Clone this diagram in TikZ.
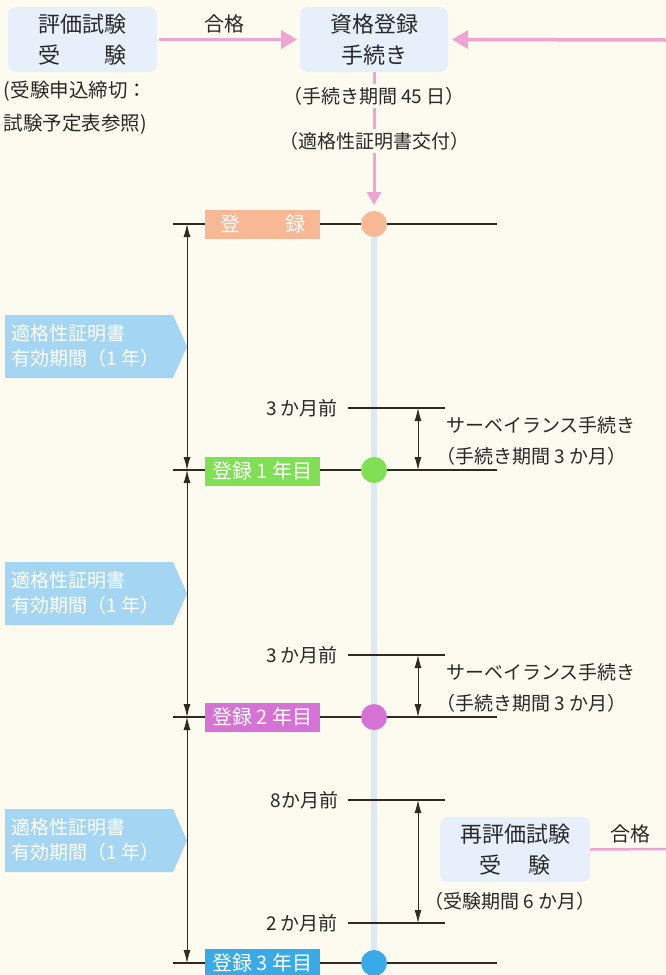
\documentclass[tikz,border=0pt]{standalone}
\usepackage{fontspec}
\setmainfont{Noto Sans CJK JP}
\newfontfamily\haltfont{Noto Sans CJK JP}[RawFeature=+halt]
\usetikzlibrary{arrows.meta}
\definecolor{bg}{RGB}{253,251,240}
\definecolor{boxbg}{RGB}{231,240,250}
\definecolor{txt}{RGB}{40,40,40}
\definecolor{dark}{RGB}{50,42,32}
\definecolor{pinkc}{RGB}{240,164,212}
\definecolor{vblue}{RGB}{220,232,245}
\definecolor{pent}{RGB}{164,214,243}
\definecolor{salmon}{RGB}{248,184,150}
\definecolor{greenc}{RGB}{128,224,84}
\definecolor{magc}{RGB}{214,114,214}
\definecolor{bluec}{RGB}{56,170,232}
\newcommand\lpar{{\haltfont （}}
\newcommand\rpar{{\haltfont ）}}
\begin{document}
\begin{tikzpicture}[x=1pt,y=-1pt,
  every node/.style={inner sep=0pt, outer sep=0pt, text=txt},
  tbox/.style={fill=boxbg, rounded corners=8pt, align=center, minimum height=65pt, font=\fontsize{22}{31}\selectfont},
  lbl/.style={font=\fontsize{19}{30}\selectfont, align=center},
  passlbl/.style={font=\fontsize{20}{24}\selectfont},
  regbox/.style={minimum width=115pt, minimum height=29pt, text=white, font=\fontsize{20}{24}\selectfont},
  dot/.style={circle, minimum size=26pt},
  parrow/.style={draw=pinkc, line width=3.5pt, -{Triangle[length=16pt,width=18pt]}},
  vparrow/.style={draw=pinkc, line width=3pt, -{Triangle[length=13pt,width=14pt]}},
  pline/.style={draw=pinkc, line width=2.5pt},
  dim/.style={draw=dark, line width=0.9pt, {Latex[length=13pt,width=7pt]}-{Latex[length=13pt,width=7pt]}},
  hline/.style={draw=dark, line width=1.1pt},
  vline/.style={draw=vblue, line width=6pt},
  ptext/.style={text=white, font=\fontsize{19}{25}\selectfont, anchor=west}
]
\fill[bg] (0,0) rectangle (666,975);
\useasboundingbox (0,0) rectangle (666,975);

% top boxes
\node[tbox, minimum width=149pt] (exam) at (82.5,39.5) {評価試験\\受\hspace{2em}験};
\node[tbox, minimum width=148pt] (reg) at (374,39.5) {資格登録\\手続き};
\node[passlbl] (pass1) at (224,24) {合格};
\coordinate (rin) at (666,40);
\draw[parrow, shorten <=2pt, shorten >=3pt] (exam.east) -- (reg.west);
\draw[parrow, shorten >=4pt] (rin) -- (reg.east);
\node[lbl, align=left, anchor=west, font=\fontsize{19.5}{33}\selectfont] (deadline) at (4,107.5) {(受験申込締切：\\試験予定表参照)};

% timeline vertical
\coordinate (vbot) at (374,975);
\node[dot] (d0) at (374,224) {};
\draw[vline] (d0.center) -- (vbot);
\draw[vparrow, shorten >=6pt] (reg.south) -- (d0.north);
\node[lbl, fill=bg, inner ysep=3pt] (days) at (374,96) {\lpar 手続き期間 45 日\rpar};
\node[lbl, fill=bg, inner ysep=3pt] (cert) at (374,141) {\lpar 適格性証明書交付\rpar};

% registration levels
\foreach \i/\y in {0/224,1/470,2/717,3/963}{
  \coordinate (L\i) at (173,\y);
  \coordinate (R\i) at (497,\y);
  \coordinate (A\i) at (187,\y);
  \draw[hline] (L\i) -- (R\i);
}
\node[regbox, fill=salmon] (b0) at (262.5,224) {登\hspace{45pt}録};
\node[regbox, fill=greenc] (b1) at (262.5,471) {登録 1 年目};
\node[regbox, fill=magc] (b2) at (262.5,717) {登録 2 年目};
\node[regbox, fill=bluec] (b3) at (262.5,963) {登録 3 年目};
\node[dot, fill=salmon] (d0f) at (374,224) {};
\node[dot, fill=greenc] (d1) at (374,470) {};
\node[dot, fill=magc] (d2) at (374,717) {};
\node[dot, fill=bluec] (d3) at (374,963) {};

% validity arrows
\draw[dim] (A0) -- (A1);
\draw[dim] (A1) -- (A2);
\draw[dim] (A2) -- (A3);

% pentagons
\foreach \c in {346.5,593.5,840.5}{
  \fill[pent] (5,\c-31.5) -- (173,\c-31.5) -- (187,\c) -- (173,\c+31.5) -- (5,\c+31.5) -- cycle;
}
\node[ptext] (p1a) at (12,333) {適格性証明書};
\node[ptext] (p1b) at (12,358) {有効期間（1 年）};
\node[ptext] (p2a) at (12,580) {適格性証明書};
\node[ptext] (p2b) at (12,605) {有効期間（1 年）};
\node[ptext] (p3a) at (12,827) {適格性証明書};
\node[ptext] (p3b) at (12,852) {有効期間（1 年）};

% surveillance 1
\coordinate (s1l) at (348,408);
\coordinate (s1r) at (445,408);
\coordinate (s1a) at (418,408);
\coordinate (s1b) at (418,470);
\draw[hline] (s1l) -- (s1r);
\draw[dim] (s1a) -- (s1b);
\node[lbl, anchor=east] (m1) at (338,408) {3 か月前};
\node[lbl, anchor=west, align=left, font=\fontsize{19}{31}\selectfont] (sv1) at (446,440.5) {サーベイランス手続き\\\lpar 手続き期間 3 か月\rpar};

% surveillance 2
\coordinate (s2l) at (348,655);
\coordinate (s2r) at (445,655);
\coordinate (s2a) at (418,655);
\coordinate (s2b) at (418,717);
\draw[hline] (s2l) -- (s2r);
\draw[dim] (s2a) -- (s2b);
\node[lbl, anchor=east] (m2) at (338,655) {3 か月前};
\node[lbl, anchor=west, align=left, font=\fontsize{19}{31}\selectfont] (sv2) at (446,687.5) {サーベイランス手続き\\\lpar 手続き期間 3 か月\rpar};

% re-exam
\coordinate (e1l) at (348,800);
\coordinate (e1r) at (445,800);
\coordinate (e2l) at (348,923);
\coordinate (e2r) at (445,923);
\coordinate (ea) at (418,800);
\coordinate (eb) at (418,923);
\draw[hline] (e1l) -- (e1r);
\draw[hline] (e2l) -- (e2r);
\draw[dim] (ea) -- (eb);
\node[lbl, anchor=east] (m8) at (338,800) {8か月前};
\node[lbl, anchor=east] (m2b) at (338,923) {2 か月前};
\node[tbox, minimum width=150pt] (reexam) at (515,849.5) {再評価試験\\受\hspace{1.2em}験};
\node[lbl] (period) at (510,901) {\lpar 受験期間 6 か月\rpar};
\node[passlbl] (pass2) at (630,834) {合格};
\coordinate (pr) at (666,849);
\draw[pline] (reexam.east) -- (pr);
\end{tikzpicture}
\end{document}
